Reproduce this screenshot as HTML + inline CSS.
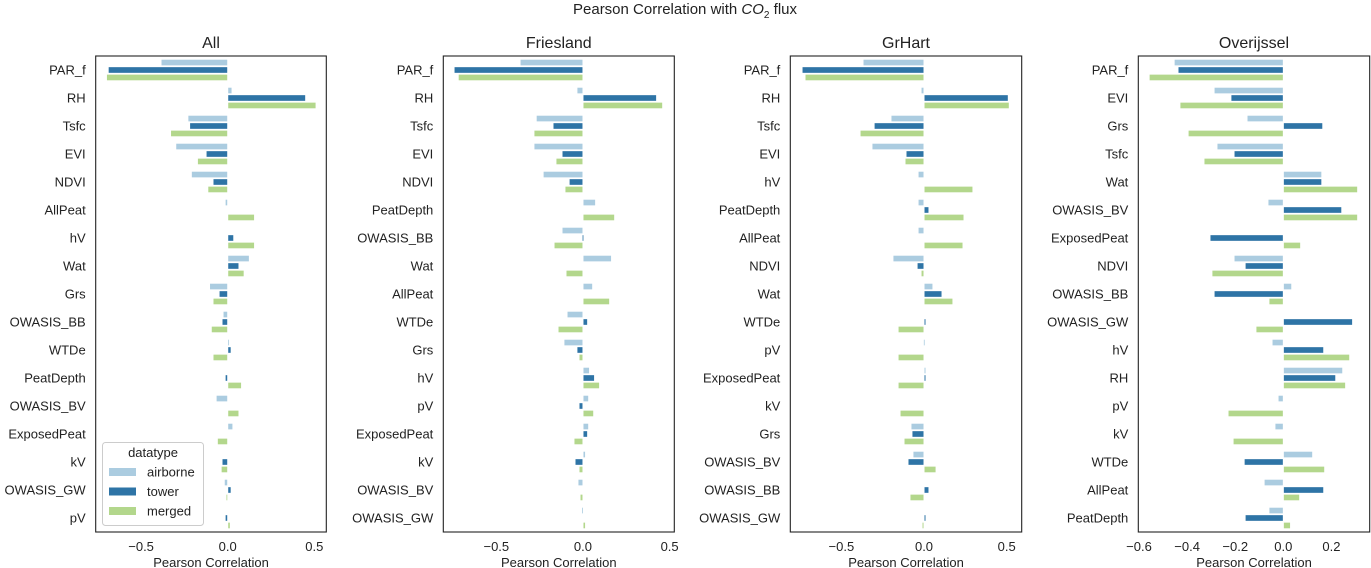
<!DOCTYPE html>
<html><head><meta charset="utf-8"><style>
body{margin:0;background:#fff;}
svg{display:block;font-family:"Liberation Sans","DejaVu Sans",sans-serif;}
</style></head><body>
<svg id="chart" width="1371" height="568" viewBox="0 0 1371 568" xmlns="http://www.w3.org/2000/svg">
<text x="685" y="14" text-anchor="middle" font-size="15" fill="#222">Pearson Correlation with <tspan font-style="italic">CO</tspan><tspan font-size="10" dy="4">2</tspan><tspan dy="-4"> flux</tspan></text>
</svg>
<script>
const hues = ['airborne','tower','merged'];
const colors = ['#abcce0','#2e74a6','#b3d78c'];

const catAll = ['PAR_f','RH','Tsfc','EVI','NDVI','AllPeat','hV','Wat','Grs','OWASIS_BB','WTDe','PeatDepth','OWASIS_BV','ExposedPeat','kV','OWASIS_GW','pV'];
const airAll = [-0.385,0.025,-0.23,-0.30,-0.21,-0.015,0,0.125,-0.105,-0.027,0.005,0,-0.067,0.03,0,-0.02,0];
const towAll = [-0.69,0.45,-0.22,-0.125,-0.085,0,0.035,0.065,-0.05,-0.033,0.02,-0.015,0,0,-0.033,0.02,-0.015];
const merAll = [-0.70,0.51,-0.33,-0.175,-0.115,0.155,0.155,0.095,-0.085,-0.095,-0.085,0.08,0.065,-0.06,-0.038,-0.01,0.015];

const catFr = ['PAR_f','RH','Tsfc','EVI','NDVI','PeatDepth','OWASIS_BB','Wat','AllPeat','WTDe','Grs','hV','pV','ExposedPeat','kV','OWASIS_BV','OWASIS_GW'];
const airFr = [-0.363,-0.035,-0.27,-0.283,-0.23,0.073,-0.121,0.165,0.056,-0.092,-0.11,0.038,0.033,0.033,0.015,-0.029,-0.008];
const towFr = [-0.744,0.425,-0.173,-0.121,-0.08,0,-0.005,0,0,0.027,-0.035,0.067,-0.023,0.027,-0.046,0,0];
const merFr = [-0.72,0.46,-0.283,-0.156,-0.104,0.183,-0.167,-0.098,0.154,-0.144,-0.023,0.096,0.062,-0.052,-0.023,-0.017,0.015];

const catGr = ['PAR_f','RH','Tsfc','EVI','hV','PeatDepth','AllPeat','NDVI','Wat','WTDe','pV','ExposedPeat','kV','Grs','OWASIS_BV','OWASIS_BB','OWASIS_GW'];
const airGr = [-0.369,-0.018,-0.2,-0.315,-0.036,-0.036,-0.036,-0.188,0.054,0,-0.004,0.012,0,-0.079,-0.067,0,0];
const towGr = [-0.738,0.51,-0.302,-0.109,0,0.03,0,-0.042,0.109,0.012,0,0.012,0,-0.073,-0.097,0.03,0.012];
const merGr = [-0.72,0.516,-0.387,-0.115,0.296,0.242,0.236,-0.018,0.175,-0.157,-0.157,-0.157,-0.145,-0.121,0.073,-0.085,-0.012];

const catOv = ['PAR_f','EVI','Grs','Tsfc','Wat','OWASIS_BV','ExposedPeat','NDVI','OWASIS_BB','OWASIS_GW','hV','RH','pV','kV','WTDe','AllPeat','PeatDepth'];
const airOv = [-0.454,-0.288,-0.151,-0.276,0.16,-0.064,0,-0.205,0.035,0,-0.047,0.247,-0.022,-0.035,0.122,-0.08,-0.06];
const towOv = [-0.438,-0.218,0.164,-0.205,0.16,0.243,-0.305,-0.159,-0.288,0.288,0.168,0.218,0,0,-0.163,0.168,-0.159];
const merOv = [-0.558,-0.43,-0.396,-0.33,0.309,0.309,0.072,-0.297,-0.06,-0.114,0.276,0.259,-0.23,-0.209,0.172,0.068,0.03];

const ticksA = [-0.5,0,0.5];
const tickLabelsA = ['\u22120.5','0.0','0.5'];
const ticksO = [-0.6,-0.4,-0.2,0,0.2];
const tickLabelsO = ['\u22120.6','\u22120.4','\u22120.2','0.0','0.2'];

const svg = document.getElementById('chart');
const NS = 'http://www.w3.org/2000/svg';
function mk(tag, attrs){const e=document.createElementNS(NS,tag);for(const k in attrs)e.setAttribute(k,attrs[k]);return e;}

const panels = [
 {title:'All', left:95.7, right:326.3, xmin:-0.762, xmax:0.569, cats:catAll, vals:[airAll,towAll,merAll], ticks:ticksA, tl:tickLabelsA, legend:true},
 {title:'Friesland', left:443.3, right:674.3, xmin:-0.806, xmax:0.527, cats:catFr, vals:[airFr,towFr,merFr], ticks:ticksA, tl:tickLabelsA},
 {title:'GrHart', left:790.3, right:1021.7, xmin:-0.809, xmax:0.591, cats:catGr, vals:[airGr,towGr,merGr], ticks:ticksA, tl:tickLabelsA},
 {title:'Overijssel', left:1138.3, right:1369.7, xmin:-0.603, xmax:0.359, cats:catOv, vals:[airOv,towOv,merOv], ticks:ticksO, tl:tickLabelsO}
];
const plotTop=56, plotBottom=532;

panels.forEach(p=>{
  const g = mk('g',{});
  
  
  svg.appendChild(g);
  const xs = v => p.left + (v - p.xmin) / (p.xmax - p.xmin) * (p.right - p.left);
  const n = p.cats.length;
  const band = (plotBottom - plotTop) / n;
  const ys = i => plotTop + band * (i + 0.5);
  const bh = band * 0.8 / 3;
  const t = mk('text',{x:(p.left+p.right)/2, y:48, 'text-anchor':'middle','font-size':16, fill:'#222'});
  
  
  t.textContent = p.title; g.appendChild(t);
  p.vals.forEach((series, h)=>{
    series.forEach((v,i)=>{
      if(v===0) return;
      const yc = ys(i) + (h-1)*bh;
      const x0 = xs(0), x1 = xs(v);
      const r = mk('rect',{x:Math.min(x0,x1)+0.5, y:yc-bh/2+0.9, width:Math.max(Math.abs(x1-x0)-1,0.8), height:bh-1.8, fill:colors[h]});
      
      
      g.appendChild(r);
    });
  });
  p.cats.forEach((c,i)=>{
    const l = mk('text',{x:p.left-10, y:ys(i)+4.5, 'text-anchor':'end','font-size':13, fill:'#222'});
    
    
    l.textContent = c; g.appendChild(l);
  });
  p.ticks.forEach((tv,k)=>{
    const l = mk('text',{x:xs(tv), y:551, 'text-anchor':'middle','font-size':13, fill:'#222'});
    
    
    l.textContent = p.tl[k]; g.appendChild(l);
  });
  const xl = mk('text',{x:(p.left+p.right)/2, y:567, 'text-anchor':'middle','font-size':13, fill:'#222'});
  
  
  xl.textContent = 'Pearson Correlation'; g.appendChild(xl);
  const fr = mk('rect',{x:p.left, y:plotTop, width:p.right-p.left, height:plotBottom-plotTop, fill:'none', stroke:'#222','stroke-width':1.1});
  
  
  g.appendChild(fr);
  if(p.legend){
    const lg = mk('g',{});
    
    
    g.appendChild(lg);
    lg.appendChild(mk('rect',{x:102.5, y:442.5, width:101, height:83, rx:3, fill:'#fff', stroke:'#ccc', 'stroke-width':1}));
    const lt = mk('text',{x:153, y:457, 'text-anchor':'middle','font-size':13, fill:'#222'});
    
    
    lt.textContent = 'datatype'; lg.appendChild(lt);
    hues.forEach((hn,h)=>{
      const yy = 472 + h*19.5;
      const sw = mk('rect',{x:109, y:yy-4, width:27, height:8, fill:colors[h]});
      
      
      lg.appendChild(sw);
      const tx = mk('text',{x:147, y:yy+4.5, 'font-size':13, fill:'#222'});
      
      
      tx.textContent = hn; lg.appendChild(tx);
    });
  }
});
</script>
</body></html>
